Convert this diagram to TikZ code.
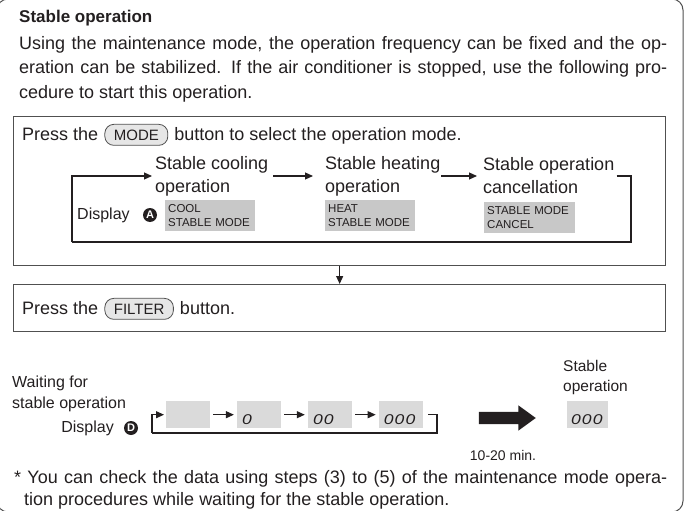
\documentclass[tikz,border=0pt]{standalone}
\usepackage{fontspec}
\setmainfont{Liberation Sans}
\usetikzlibrary{arrows.meta,shapes.arrows,positioning}
\definecolor{ink}{HTML}{231F20}
\definecolor{rule}{HTML}{505050}
\definecolor{lcd}{HTML}{C8C8C8}
\definecolor{lcdlight}{HTML}{DADADA}
\definecolor{btnfill}{HTML}{E6E6E6}
\newcommand{\segdigits}[1]{\scalebox{1.3}[1.05]{\itshape\addfontfeatures{LetterSpace=6}#1}}

\begin{document}
\begin{tikzpicture}[x=1pt, y=-1pt,
    every node/.style={inner sep=0pt, text=ink},
    maintext/.style={font=\fontsize{18}{24}\selectfont},
    twoline/.style={font=\fontsize{18}{23}\selectfont, align=left},
    smalltext/.style={font=\fontsize{16}{21.5}\selectfont},
    stepbox/.style={draw=rule, line width=1.3pt},
    button/.style={draw=rule, fill=btnfill, line width=0.8pt, rounded corners=9pt, minimum height=21pt, inner xsep=9pt, font=\fontsize{15}{15}\selectfont},
    lcdbox/.style={fill=lcd, minimum height=31pt, text width=84pt, inner xsep=3pt, align=left, font=\fontsize{11.5}{13.5}\selectfont},
    segbox/.style={fill=lcdlight, minimum width=44pt, minimum height=27pt},
    digit/.style={font=\fontsize{13.5}{13.5}\selectfont},
    badge/.style={circle, fill=ink, text=white, minimum size=14pt, font=\bfseries\fontsize{11}{11}\selectfont},
    flow/.style={draw=ink, line width=1.1pt},
    arr/.style={flow, -{Triangle[length=8pt,width=7pt]}},
    bigarrow/.style={single arrow, fill=ink, minimum height=57pt, minimum width=25pt, inner sep=6pt, single arrow head extend=6.5pt, single arrow tip angle=72}
]
\useasboundingbox (0,0) rectangle (688,511);
\draw[rule, line width=1pt, rounded corners=11pt] (-3,-1) rectangle (683,512);

\node[font=\bfseries\fontsize{17}{24}\selectfont, anchor=base west] (title) at (19,23) {Stable operation};
\node[maintext, anchor=base west, text width=648pt, align=justify] (intro) at (19,50)
    {Using the maintenance mode, the operation frequency can be fixed and the op-\linebreak eration can be stabilized. If the air conditioner is stopped, use the following pro-\linebreak cedure to start this operation.};

\node[stepbox, anchor=north west, minimum width=652pt, minimum height=149pt] (box1) at (13,116) {};
\node[maintext, anchor=base west] (press1) at (22,140) {Press the};
\node[button, base right=6pt of press1] (mode) {MODE};
\node[maintext, base right=6pt of mode] (select) {button to select the operation mode.};

\node[twoline, anchor=west] (coolt) at (155,176) {Stable cooling\\operation};
\node[twoline, anchor=west] (heatt) at (325,176) {Stable heating\\operation};
\node[twoline, anchor=west] (cancelt) at (483,176) {Stable operation\\cancellation};
\node[lcdbox, anchor=north west] (cool) at (165,200) {COOL\\STABLE MODE};
\node[lcdbox, anchor=north west] (heat) at (325,200) {HEAT\\STABLE MODE};
\node[lcdbox, anchor=north west, text width=85pt] (cancel) at (484,202) {STABLE MODE\\CANCEL};
\node[font=\fontsize{16}{20}\selectfont, anchor=west] (disp1) at (77,215) {Display};
\node[badge] (ba) at (150,215) {A};

\coordinate (topl) at (72,242);
\coordinate (topr) at (631,242);
\draw[arr] (topl) |- ([xshift=-3pt]coolt.west);
\draw[arr] ([xshift=5pt]coolt.east) -- ([xshift=-12pt]heatt.west);
\draw[arr] ([xshift=1pt]heatt.east) -- ([xshift=-6pt]cancelt.west);
\draw[flow] ([xshift=2pt]cancelt.east) -| (topr) -- (topl);

\node[stepbox, anchor=north west, minimum width=652pt, minimum height=47pt] (box2) at (13,284) {};
\draw[arr] (box1.south) -- (box2.north);
\node[maintext, anchor=base west] (press2) at (22,314) {Press the};
\node[button, base right=6pt of press2] (filter) {FILTER};
\node[maintext, base right=6pt of filter] (btn) {button.};

\node[smalltext, anchor=west, align=left] (waiting) at (12,394) {Waiting for\\stable operation};
\node[smalltext, anchor=east] (disp2) at (114,428) {Display};
\node[badge] (bd) at (131,428) {D};
\node[segbox, anchor=north west] (s0) at (166,401) {};
\node[segbox, right=26.5pt of s0] (s1) {};
\node[segbox, right=26.5pt of s1] (s2) {};
\node[segbox, right=26.5pt of s2] (s3) {};
\node[digit, anchor=south west] (n1) at ([xshift=5pt,yshift=4pt]s1.south west) {\segdigits{0}};
\node[digit, anchor=south west] (n2) at ([xshift=5pt,yshift=4pt]s2.south west) {\segdigits{00}};
\node[digit, anchor=south west] (n3) at ([xshift=5pt,yshift=4pt]s3.south west) {\segdigits{000}};

\coordinate (botl) at (152,433);
\coordinate (botr) at (437,433);
\draw[arr] (botl) |- ([xshift=-2pt]s0.west);
\draw[arr] ([xshift=3pt]s0.east) -- ([xshift=-3pt]s1.west);
\draw[arr] ([xshift=3pt]s1.east) -- ([xshift=-3pt]s2.west);
\draw[arr] ([xshift=3pt]s2.east) -- ([xshift=-3pt]s3.west);
\draw[flow] ([xshift=5pt]s3.east) -| (botr) -- (botl);

\node[bigarrow] (waitarrow) at (503,418) {};
\node[font=\fontsize{14}{18}\selectfont] (mins) at (503,455) {10-20 min.};

\node[smalltext, font=\fontsize{15.5}{20}\selectfont, anchor=west, align=left] (done) at (563,377) {Stable\\operation};
\node[segbox, anchor=north west, minimum width=41pt] (sf) at (567,401) {};
\node[digit, anchor=south west] (nf) at ([xshift=4pt,yshift=4pt]sf.south west) {\segdigits{000}};

\node[maintext, font=\fontsize{18}{22}\selectfont, anchor=base west, text width=653pt, align=justify] (note) at (14,483)
    {* You can check the data using steps (3) to (5) of the maintenance mode opera-\linebreak\hspace*{10pt}tion procedures while waiting for the stable operation.};
\end{tikzpicture}
\end{document}
